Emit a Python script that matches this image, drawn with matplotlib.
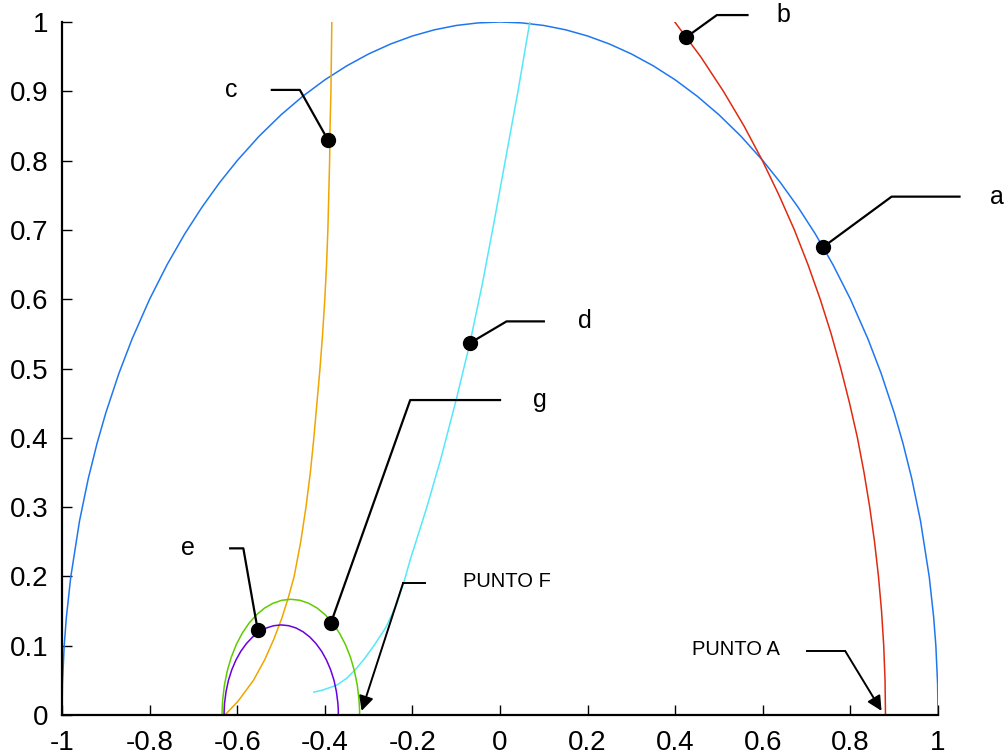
import matplotlib
matplotlib.use("Agg")
import matplotlib.pyplot as plt

plt.rcParams["font.family"] = ["Liberation Sans", "DejaVu Sans"]

# curves
blue_x = [-1.0, -0.999, -0.995, -0.99, -0.98, -0.96, -0.94, -0.92, -0.9, -0.87, -0.84,
          -0.8, -0.76, -0.72, -0.68, -0.64, -0.6, -0.55, -0.5, -0.45, -0.4, -0.35, -0.3,
          -0.25, -0.2, -0.15, -0.1, -0.05, 0.0,
          0.05, 0.1, 0.15, 0.2, 0.25, 0.3, 0.35, 0.4, 0.45, 0.5, 0.55, 0.6, 0.64, 0.68,
          0.72, 0.76, 0.8, 0.84, 0.87, 0.9, 0.92, 0.94, 0.96, 0.98, 0.99, 0.995, 0.999, 1.0]
blue_y = [0.0, 0.0447, 0.0999, 0.1411, 0.199, 0.28, 0.3412, 0.3919, 0.4359, 0.4931, 0.5426,
          0.6, 0.6499, 0.694, 0.7332, 0.7684, 0.8, 0.8352, 0.866, 0.893, 0.9165, 0.9367,
          0.9539, 0.9682, 0.9798, 0.9887, 0.995, 0.9987, 1.0,
          0.9987, 0.995, 0.9887, 0.9798, 0.9682, 0.9539, 0.9367, 0.9165, 0.893, 0.866,
          0.8352, 0.8, 0.7684, 0.7332, 0.694, 0.6499, 0.6, 0.5426, 0.4931, 0.4359, 0.3919,
          0.3412, 0.28, 0.199, 0.1411, 0.0999, 0.0447, 0.0]

red_x = [0.399, 0.458, 0.510, 0.557, 0.599, 0.637, 0.672, 0.703, 0.731, 0.756, 0.778,
         0.798, 0.816, 0.831, 0.844, 0.855, 0.864, 0.871, 0.876, 0.879, 0.880]
red_y = [1.0, 0.95, 0.9, 0.85, 0.8, 0.75, 0.7, 0.65, 0.6, 0.55, 0.5, 0.45, 0.4, 0.35,
         0.3, 0.25, 0.2, 0.15, 0.1, 0.05, 0.0]

orange_x = [-0.628, -0.598, -0.563, -0.537, -0.516, -0.498, -0.483, -0.470, -0.455,
            -0.443, -0.433, -0.425, -0.418, -0.411, -0.405, -0.400, -0.396, -0.393,
            -0.391, -0.389, -0.388, -0.386, -0.385, -0.384]
orange_y = [0.0, 0.02, 0.05, 0.08, 0.11, 0.14, 0.17, 0.2, 0.25, 0.3, 0.35, 0.4, 0.45,
            0.5, 0.55, 0.6, 0.65, 0.7, 0.75, 0.8, 0.85, 0.9, 0.95, 1.0]

cyan_x = [-0.425, -0.405, -0.373, -0.350, -0.331, -0.311, -0.288, -0.260, -0.236, -0.218,
          -0.205, -0.187, -0.168, -0.135, -0.100, -0.069, -0.041, -0.014, 0.012, 0.041,
          0.068]
cyan_y = [0.033, 0.036, 0.043, 0.053, 0.065, 0.080, 0.100, 0.127, 0.160, 0.195, 0.224,
          0.260, 0.298, 0.370, 0.455, 0.536, 0.620, 0.710, 0.800, 0.900, 1.0]

green_x = [-0.3205, -0.3207, -0.3219, -0.3259, -0.3325, -0.3415, -0.3529, -0.3665, -0.3819,
           -0.399, -0.4174, -0.4369, -0.457, -0.4775, -0.498, -0.5181, -0.5376, -0.556,
           -0.5731, -0.5885, -0.6021, -0.6135, -0.6226, -0.6292, -0.6332, -0.6343, -0.6345]
green_y = [0.0, 0.0087, 0.0218, 0.0432, 0.0639, 0.0835, 0.1017, 0.1181, 0.1325, 0.1446,
           0.1543, 0.1613, 0.1656, 0.167, 0.1656, 0.1613, 0.1543, 0.1446, 0.1325, 0.1181,
           0.1017, 0.0835, 0.0639, 0.0432, 0.0218, 0.0087, 0.0]

purple_x = [-0.369, -0.3692, -0.3701, -0.3735, -0.3789, -0.3865, -0.396, -0.4072, -0.4201,
            -0.4343, -0.4496, -0.4657, -0.4825, -0.4995, -0.5165, -0.5333, -0.5494,
            -0.5648, -0.579, -0.5918, -0.6031, -0.6125, -0.6201, -0.6255, -0.6289,
            -0.6298, -0.630]
purple_y = [0.0, 0.0068, 0.017, 0.0336, 0.0498, 0.065, 0.0791, 0.0919, 0.1031, 0.1126,
            0.1201, 0.1256, 0.1289, 0.130, 0.1289, 0.1256, 0.1201, 0.1126, 0.1031, 0.0919,
            0.0791, 0.065, 0.0498, 0.0336, 0.017, 0.0068, 0.0]

# labelled points
point_labels = ["a", "b", "c", "d", "e", "g"]
point_x = [0.737, 0.425, -0.393, -0.068, -0.553, -0.386]
point_y = [0.675, 0.978, 0.830, 0.537, 0.122, 0.133]

x_ticks = [-1, -0.8, -0.6, -0.4, -0.2, 0, 0.2, 0.4, 0.6, 0.8, 1]
x_tick_labels = ["-1", "-0.8", "-0.6", "-0.4", "-0.2", "0", "0.2", "0.4", "0.6", "0.8", "1"]
y_ticks = [0, 0.1, 0.2, 0.3, 0.4, 0.5, 0.6, 0.7, 0.8, 0.9, 1]
y_tick_labels = ["0", "0.1", "0.2", "0.3", "0.4", "0.5", "0.6", "0.7", "0.8", "0.9", "1"]

fig = plt.figure(figsize=(10.08, 7.56), dpi=100)
ax = fig.add_axes([0.0615, 0.0542, 0.8691, 0.9167])

ax.plot(blue_x, blue_y, color="#1f77f0", lw=1.1)
ax.plot(red_x, red_y, color="#e02a10", lw=1.1)
ax.plot(orange_x, orange_y, color="#f0a500", lw=1.1)
ax.plot(cyan_x, cyan_y, color="#55e8f8", lw=1.1)
ax.plot(green_x, green_y, color="#5fcc00", lw=1.1)
ax.plot(purple_x, purple_y, color="#6a00e0", lw=1.1)

# leader lines: dot -> knee -> end of horizontal, then label
leaders = {
    "a": ((0.894, 0.748), (1.049, 0.748), (1.135, 0.748)),
    "b": ((0.495, 1.010), (0.565, 1.010), (0.646, 1.010)),
    "c": ((-0.457, 0.902), (-0.521, 0.902), (-0.614, 0.902)),
    "d": ((0.015, 0.568), (0.100, 0.568), (0.194, 0.568)),
    "e": ((-0.586, 0.2405), (-0.616, 0.2405), (-0.712, 0.2405)),
    "g": ((-0.205, 0.4545), (0.0, 0.4545), (0.091, 0.4545)),
}
for lab, px, py in zip(point_labels, point_x, point_y):
    knee, end, txt = leaders[lab]
    ax.plot([px, knee[0], end[0]], [py, knee[1], end[1]], color="black", lw=1.6,
            clip_on=False, zorder=4)
    ax.plot(px, py, "o", color="black", ms=10, clip_on=False, zorder=5)
    ax.text(txt[0], txt[1], lab, fontsize=18, ha="center", va="center", clip_on=False)

# arrows for PUNTO F and PUNTO A
ax.plot([-0.171, -0.2215], [0.190, 0.190], color="black", lw=1.4)
ax.annotate("", xy=(-0.316, 0.006), xytext=(-0.2215, 0.190),
            arrowprops=dict(arrowstyle="-|>", color="black", lw=1.4,
                            mutation_scale=22, shrinkA=0, shrinkB=0))
ax.text(-0.0845, 0.192, "PUNTO F", fontsize=14.5, ha="left", va="center")

ax.plot([0.700, 0.788], [0.0924, 0.0924], color="black", lw=1.4)
ax.annotate("", xy=(0.871, 0.006), xytext=(0.788, 0.0924),
            arrowprops=dict(arrowstyle="-|>", color="black", lw=1.4,
                            mutation_scale=22, shrinkA=0, shrinkB=0))
ax.text(0.4377, 0.0944, "PUNTO A", fontsize=14.5, ha="left", va="center")

ax.set_xlim(-1, 1)
ax.set_ylim(0, 1)
ax.set_xticks(x_ticks)
ax.set_xticklabels(x_tick_labels)
ax.set_yticks(y_ticks)
ax.set_yticklabels(y_tick_labels)
ax.tick_params(direction="in", length=7, width=1, labelsize=20)
ax.tick_params(axis="x", pad=11)
ax.tick_params(axis="y", pad=10)
ax.spines["top"].set_visible(False)
ax.spines["right"].set_visible(False)
ax.spines["left"].set_linewidth(1.6)
ax.spines["bottom"].set_linewidth(1.6)

fig.savefig("out.png", dpi=100)
